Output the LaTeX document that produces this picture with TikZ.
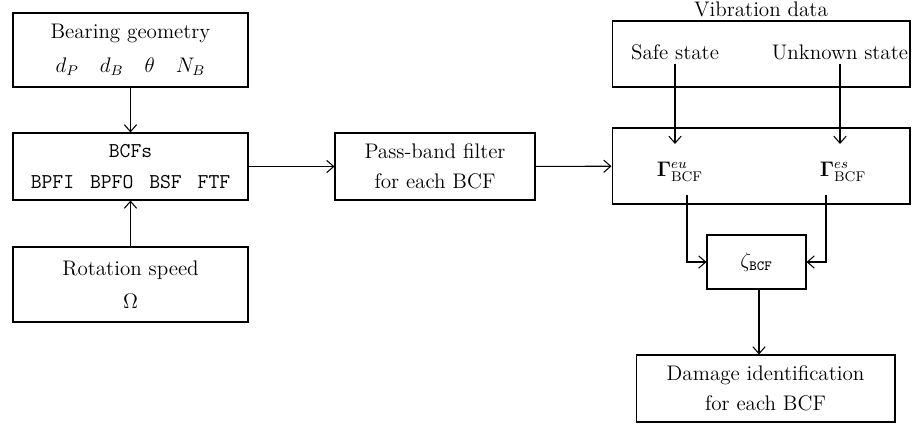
\documentclass[tikz,border=0pt]{standalone}
\usepackage{amsmath,bm}
\usetikzlibrary{arrows.meta,positioning}

\begin{document}
\begin{tikzpicture}[x=0.02cm,y=-0.02cm,>={Straight Barb[length=4pt,width=7pt]},font=\large,line width=0.6pt,
 blk/.style={draw,rectangle,inner sep=0pt,align=center},
 lb/.style={inner sep=2pt,align=center}]
\useasboundingbox (0,0) rectangle (912,427);
% left column
\node[blk,minimum width=4.7cm,minimum height=1.48cm] (geom) at (130.5,50) {Bearing geometry\\[5pt] $d_P\quad d_B\quad \theta\quad N_B$};
\node[blk,minimum width=4.7cm,minimum height=1.34cm] (bcf) at (130.5,166.5) {\texttt{BCFs}\\[4pt] \texttt{BPFI\hspace{9pt}BPFO\hspace{9pt}BSF\hspace{9pt}FTF}};
\node[blk,minimum width=4.7cm,minimum height=1.5cm] (speed) at (130.5,284.5) {Rotation speed\\[5pt] $\Omega$};
% filter
\node[blk,minimum width=4.0cm,minimum height=1.34cm] (filt) at (435,166.5) {Pass-band filter\\[3pt] for each BCF};
% right column
\node[lb] (vtitle) at (761,9) {Vibration data};
\node[blk,minimum width=5.96cm,minimum height=1.32cm] (vib) at (761,54) {};
\node[lb] (safe) at (675,52) {Safe state};
\node[lb] (unk) at (840,52) {Unknown state};
\node[blk,minimum width=5.96cm,minimum height=1.52cm] (gam) at (761,166) {};
\node[lb] (geu) at (680,172) {$\bm{\Gamma}^{eu}_{\mathrm{BCF}}$};
\node[lb] (ges) at (843,172) {$\bm{\Gamma}^{es}_{\mathrm{BCF}}$};
\coordinate (t1) at (675,144); \coordinate (t2) at (840,144);
\coordinate (c1) at (687,195); \coordinate (c2) at (826,195);
\node[blk,minimum width=1.98cm,minimum height=1.08cm] (zeta) at (756.5,262) {$\zeta_{\texttt{BCF}}$};
\node[blk,minimum width=5.18cm,minimum height=1.34cm] (dmg) at (765.5,388.5) {Damage identification\\[3pt] for each BCF};
\draw[->] (geom)--(bcf); \draw[->] (speed)--(bcf);
\draw[->] (bcf)--(filt); \draw[->] (filt)--(gam);
\draw[->] (safe)--(t1); \draw[->] (unk)--(t2);
\draw[->] (c1)|-(zeta.west); \draw[->] (c2)|-(zeta.east);
\draw[->] (zeta.south-|759,0)--(dmg.north-|759,0);
\end{tikzpicture}
\end{document}
